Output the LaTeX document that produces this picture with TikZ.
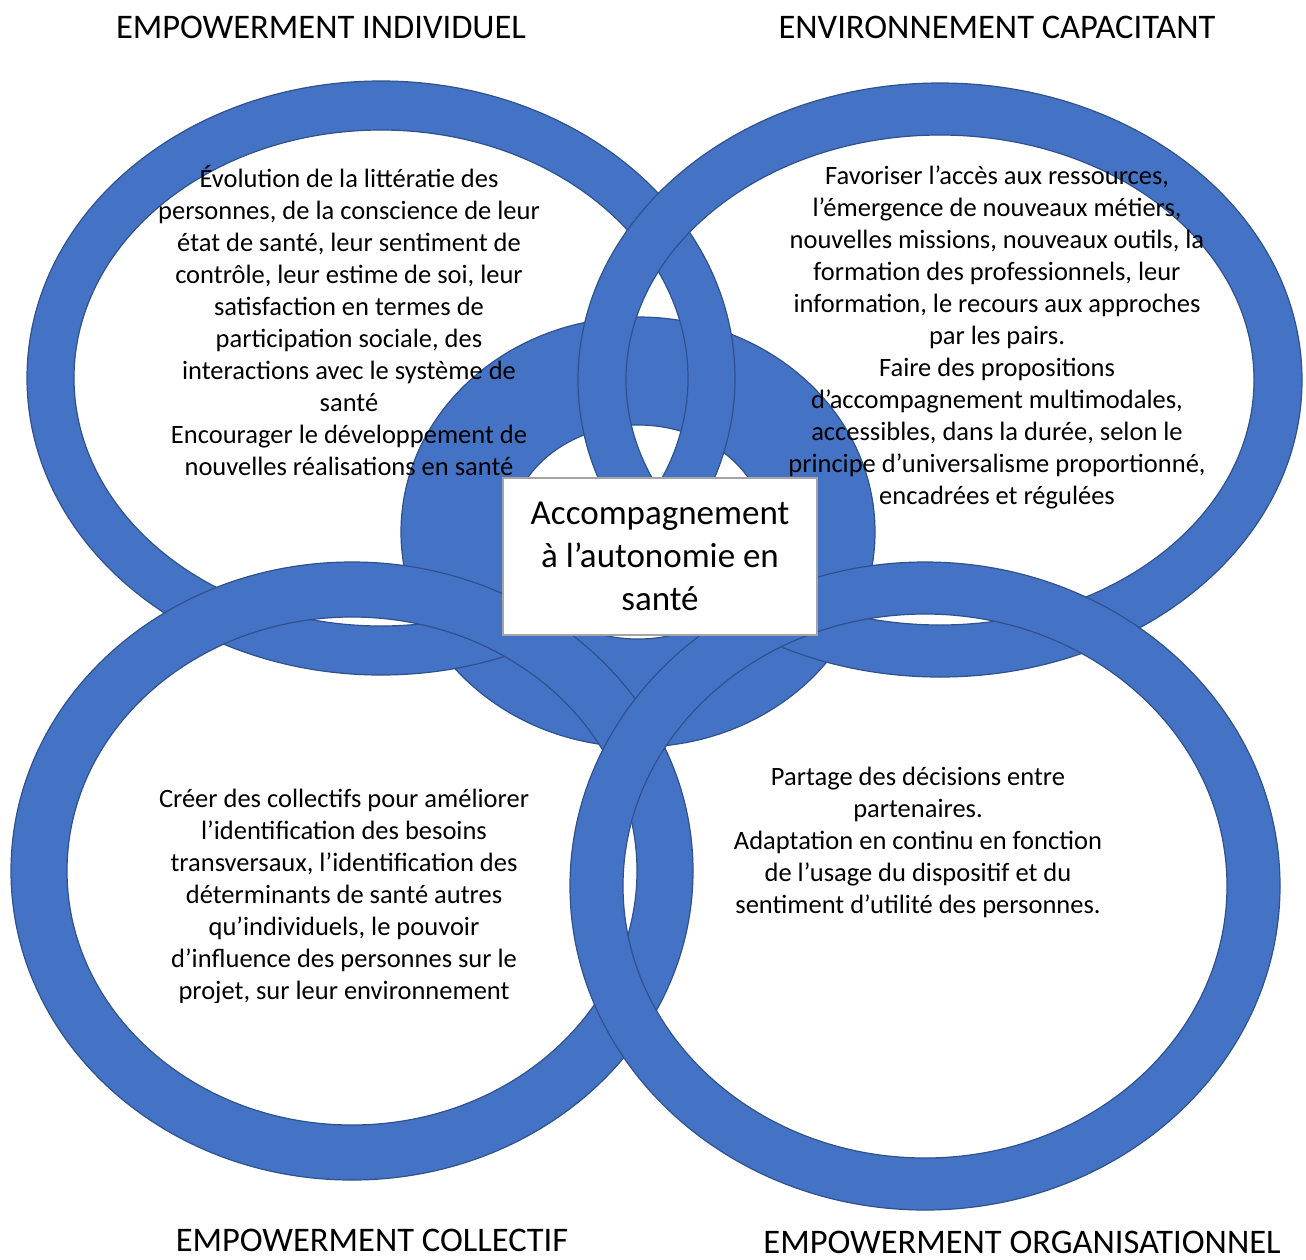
\documentclass[tikz,border=0pt]{standalone}
\usepackage{fontspec}
\setmainfont{Carlito}
\definecolor{ringblue}{HTML}{4472C4}
\definecolor{ringedge}{HTML}{2F528F}
\definecolor{boxedge}{HTML}{A5A5A5}

\begin{document}
\begin{tikzpicture}[x=1pt, y=-1pt]
\tikzstyle{ring}=[fill=ringblue, draw=ringedge, line width=1.2pt, even odd rule]
\tikzstyle{title}=[font=\fontsize{34.5}{40}\selectfont, inner sep=0pt, anchor=base]
\tikzstyle{body}=[font=\fontsize{26.5}{32}\selectfont, align=center, inner sep=0pt]
\useasboundingbox (0,0) rectangle (1306,1259);
\fill[white] (0,0) rectangle (1306,1259);

% ring centres
\path (638,532) coordinate (cc);
\path (381,378) coordinate (tl);
\path (940,380) coordinate (tr);
\path (352,871) coordinate (bl);
\path (925,886) coordinate (br);

% rings, back to front
\path[ring] (cc) ellipse [x radius=237, y radius=215] (cc) ellipse [x radius=128, y radius=107];
\path[ring] (tl) ellipse [x radius=354, y radius=297] (tl) ellipse [x radius=307, y radius=248];
\path[ring] (tr) ellipse [x radius=362, y radius=297] (tr) ellipse [x radius=314, y radius=245];
\path[ring] (bl) ellipse [x radius=341, y radius=309] (bl) ellipse [x radius=285, y radius=254];
\path[ring] (br) ellipse [x radius=355, y radius=324] (br) ellipse [x radius=302, y radius=272];

% titles
\path (321,38) node[title] (tIndiv) {EMPOWERMENT INDIVIDUEL};
\path (997,38) node[title] (tEnv) {ENVIRONNEMENT CAPACITANT};
\path (372,1251) node[title] (tColl) {EMPOWERMENT COLLECTIF};
\path (1022,1253) node[title] (tOrga) {EMPOWERMENT ORGANISATIONNEL};

% texts inside the rings
\path (349,321) node[body] (xIndiv) {Évolution de la littératie des\\
personnes, de la conscience de leur\\
état de santé, leur sentiment de\\
contrôle, leur estime de soi, leur\\
satisfaction en termes de\\
participation sociale, des\\
interactions avec le système de\\
santé\\
Encourager le développement de\\
nouvelles réalisations en santé};
\path (997,337) node[body] (xEnv) {Favoriser l’accès aux ressources,\\
l’émergence de nouveaux métiers,\\
nouvelles missions, nouveaux outils, la\\
formation des professionnels, leur\\
information, le recours aux approches\\
par les pairs.\\
Faire des propositions\\
d’accompagnement multimodales,\\
accessibles, dans la durée, selon le\\
principe d’universalisme proportionné,\\
encadrées et régulées};
\begin{scope}
\clip (100,760) rectangle (600,1002);
\path (344,897) node[body] (xColl) {Créer des collectifs pour améliorer\\
l’identification des besoins\\
transversaux, l’identification des\\
déterminants de santé autres\\
qu’individuels, le pouvoir\\
d’influence des personnes sur le\\
projet, sur leur environnement};
\end{scope}
\path (918,842) node[body] (xOrga) {Partage des décisions entre\\
partenaires.\\
Adaptation en continu en fonction\\
de l’usage du dispositif et du\\
sentiment d’utilité des personnes.};

% centre box
\path (660,556) node[draw=boxedge, line width=2pt, fill=white, minimum width=314, minimum height=157,
  align=center, font=\fontsize{35}{43}\selectfont] (centre) {Accompagnement\\à l’autonomie en\\santé};
\end{tikzpicture}
\end{document}
